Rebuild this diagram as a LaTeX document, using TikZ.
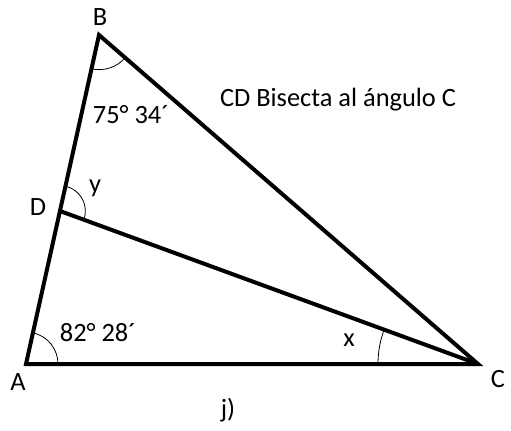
\documentclass[tikz,border=0pt]{standalone}
\usepackage{fontspec}
\setmainfont{Carlito}
\usetikzlibrary{angles}
\begin{document}
\begin{tikzpicture}[x=0.75pt,y=0.75pt,
  side/.style={line width=3pt, line join=miter},
  anglemark/.style={draw, line width=0.6pt},
  lbl/.style={font=\fontsize{19.8}{23}\selectfont, inner sep=0pt, anchor=center}]
\useasboundingbox (0,0) rectangle (511,430);
\coordinate (A) at (26,66);
\coordinate (B) at (99,395);
\coordinate (C) at (478,66);
\coordinate (D) at (60,219);
\draw[side] (A) -- (B) -- (C) -- cycle;
\draw[side] (D) -- (C);
\pic[anglemark, angle radius=24pt] {angle = C--A--B};
\pic[anglemark, angle radius=26pt] {angle = A--B--C};
\pic[anglemark, angle radius=19pt] {angle = C--D--B};
\pic[anglemark, angle radius=75pt] {angle = D--C--A};
\node[lbl] (lB) at (100,413) {B};
\node[lbl] (lD) at (38,223) {D};
\node[lbl] (lA) at (18,48) {A};
\node[lbl] (lC) at (498,51) {C};
\node[lbl] (ly) at (95,242) {y};
\node[lbl] (lb) at (131,315) {75° 34´};
\node[lbl] (la) at (98,97) {82° 28´};
\node[lbl] (lx) at (349,90) {x};
\node[lbl] (lj) at (228,20) {j)};
\node[lbl] (lt) at (338,330) {CD Bisecta al ángulo C};
\end{tikzpicture}
\end{document}
